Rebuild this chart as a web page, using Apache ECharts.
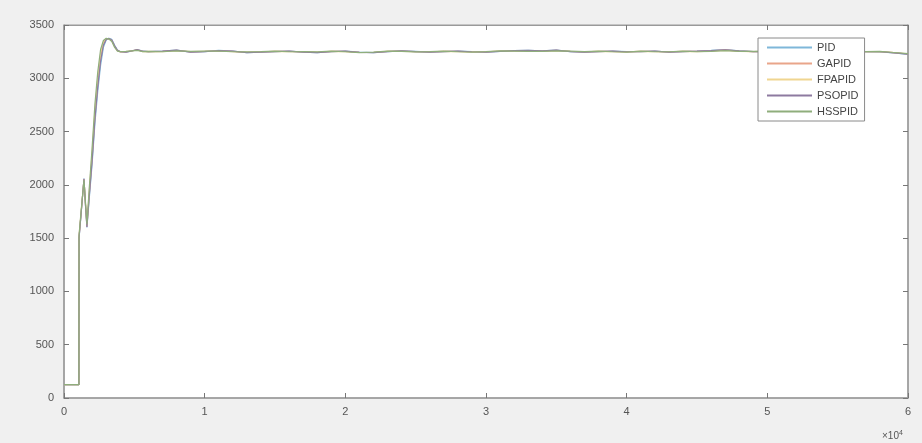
<!DOCTYPE html>
<html>
<head>
<meta charset="utf-8">
<script src="https://cdn.jsdelivr.net/npm/echarts@6/dist/echarts.min.js"></script>
<style>
html,body{margin:0;padding:0;background:#f0f0f0;}
#c{width:922px;height:443px;}
</style>
</head>
<body>
<div id="c"></div>
<script>
const time = [0,1060,1070,1200,1420,1530,1630,1800,2000,2200,2400,2600,2800,3000,3200,3400,3600,3800,4000,
  4400,4800,5200,5600,6000,
  7000,8000,9000,10000,11000,12000,13000,14000,15000,16000,17000,18000,19000,20000,21000,22000,23000,24000,25000,26000,27000,28000,29000,30000,31000,32000,33000,34000,35000,36000,37000,38000,39000,40000,41000,42000,43000,44000,45000,46000,47000,48000,49000,
  50000,52000,54000,56000,58000,59000,60000];

const seriesNames = ['PID','GAPID','FPAPID','PSOPID','HSSPID'];

const pidY = [125,125,1500,1700,2060,1800,1600,1880,2200,2580,2880,3120,3290,3360,3375,3365,3310,3265,3250,
  3245,3255,3270,3255,3250,
  3255,3265,3245,3250,3262,3255,3240,3245,3250,3255,3245,3240,3250,3255,3245,3240,3250,3258,3252,3245,3250,3255,3250,3245,3252,3260,3262,3258,3265,3250,3245,3250,3255,3250,3250,3255,3245,3250,3255,3262,3270,3258,3250,
  3250,3255,3250,3252,3248,3238,3225];

const gapidY = [125,125,1510,1710,2055,1810,1610,1920,2260,2650,2960,3200,3330,3370,3372,3355,3300,3260,3248,
  3248,3258,3268,3252,3250,
  3252,3262,3248,3252,3258,3252,3243,3247,3252,3252,3247,3243,3252,3252,3243,3242,3252,3255,3250,3247,3252,3252,3248,3247,3255,3258,3258,3255,3262,3252,3247,3252,3252,3248,3252,3252,3247,3252,3252,3258,3266,3255,3250,
  3252,3252,3250,3250,3250,3240,3228];

const fpapidY = [125,125,1520,1720,2050,1820,1620,1950,2300,2700,3000,3230,3340,3372,3370,3350,3295,3258,3250,
  3250,3256,3265,3250,3252,
  3250,3260,3250,3253,3256,3250,3245,3249,3253,3250,3249,3245,3253,3250,3242,3244,3253,3253,3249,3249,3253,3250,3247,3249,3256,3256,3255,3253,3259,3253,3249,3253,3250,3247,3253,3250,3248,3253,3250,3255,3262,3253,3251,
  3253,3250,3251,3249,3251,3241,3230];

const psopidY = [125,125,1505,1705,2058,1805,1605,1900,2230,2620,2920,3160,3310,3365,3374,3360,3305,3262,3249,
  3246,3256,3269,3254,3251,
  3254,3264,3246,3251,3260,3254,3241,3246,3251,3254,3246,3241,3251,3254,3244,3241,3251,3257,3251,3246,3251,3254,3249,3246,3253,3259,3261,3257,3264,3251,3246,3251,3254,3249,3251,3254,3246,3251,3254,3260,3268,3257,3250,
  3251,3254,3250,3251,3249,3239,3226];

const hsspidY = [125,125,1530,1730,2045,1830,1630,1980,2350,2760,3060,3270,3355,3375,3368,3345,3290,3255,3250,
  3252,3257,3262,3250,3253,
  3249,3258,3252,3254,3254,3249,3247,3250,3254,3249,3250,3247,3254,3249,3241,3246,3254,3252,3248,3250,3254,3249,3246,3250,3257,3255,3253,3252,3257,3254,3250,3254,3249,3246,3254,3249,3249,3254,3249,3253,3260,3252,3252,
  3254,3249,3252,3248,3252,3242,3232];

const xTickLabels = ['0','1','2','3','4','5','6'];

const allY = [pidY, gapidY, fpapidY, psopidY, hsspidY];
const colors = ['#7fb7d9','#e9a58a','#f0d590','#8d7aa0','#8fae7c'];

function pairs(ys){ return time.map((t,i)=>[t, ys[i]]); }

const chart = echarts.init(document.getElementById('c'), null, {renderer:'canvas'});
const axisColor = '#9a9a9a';
const labelColor = '#555';
const tickStyle = {show:true,inside:true,length:5,lineStyle:{color:'#777',width:1}};
const option = {
  animation:false,
  backgroundColor:'#f0f0f0',
  grid:{left:64,right:14,top:25,bottom:45,show:true,backgroundColor:'#ffffff',borderColor:axisColor,borderWidth:1},
  xAxis:[{
    type:'value',min:0,max:60000,interval:10000,position:'bottom',
    axisLine:{show:true,onZero:false,lineStyle:{color:axisColor,width:1.5}},
    axisTick:tickStyle,
    splitLine:{show:false},
    axisLabel:{color:labelColor,fontSize:11,fontFamily:'Liberation Sans, Arial',margin:8,
      formatter:function(v){return xTickLabels[Math.round(v/10000)];}}
  },{
    type:'value',min:0,max:60000,interval:10000,position:'top',
    axisLine:{show:true,onZero:false,lineStyle:{color:axisColor}},
    axisTick:tickStyle,
    splitLine:{show:false},axisLabel:{show:false}
  }],
  yAxis:[{
    type:'value',min:0,max:3500,interval:500,position:'left',
    axisLine:{show:true,onZero:false,lineStyle:{color:axisColor,width:1.5}},
    axisTick:tickStyle,
    splitLine:{show:false},
    axisLabel:{color:labelColor,fontSize:11,fontFamily:'Liberation Sans, Arial',margin:10,
      formatter:function(v){return String(v);}}
  },{
    type:'value',min:0,max:3500,interval:500,position:'right',
    axisLine:{show:true,onZero:false,lineStyle:{color:axisColor,width:1.5}},
    axisTick:tickStyle,
    splitLine:{show:false},axisLabel:{show:false}
  }],
  legend:{
    orient:'vertical',left:758,top:38,
    backgroundColor:'#ffffff',borderColor:'#8a8a8a',borderWidth:1,
    padding:[4,6,4,8],itemGap:5,itemWidth:45,itemHeight:12,
    itemStyle:{opacity:0},
    textStyle:{color:'#444',fontSize:11,fontFamily:'Liberation Sans, Arial'},
    data:seriesNames
  },
  graphic:[{
    type:'text',left:882,top:430,
    style:{text:'×10{s|4}',fill:'#555',fontSize:10,fontFamily:'Liberation Sans, Arial',
      rich:{s:{fontSize:7,verticalAlign:'top',padding:[0,0,6,0],fill:'#555'}}}
  }],
  series: seriesNames.map((n,i)=>({
    name:n,type:'line',data:pairs(allY[i]),symbol:'none',
    lineStyle:{width:1.2,color:colors[i]},itemStyle:{color:colors[i]},
    xAxisIndex:0,yAxisIndex:0
  }))
};
chart.setOption(option);
</script>
</body>
</html>
